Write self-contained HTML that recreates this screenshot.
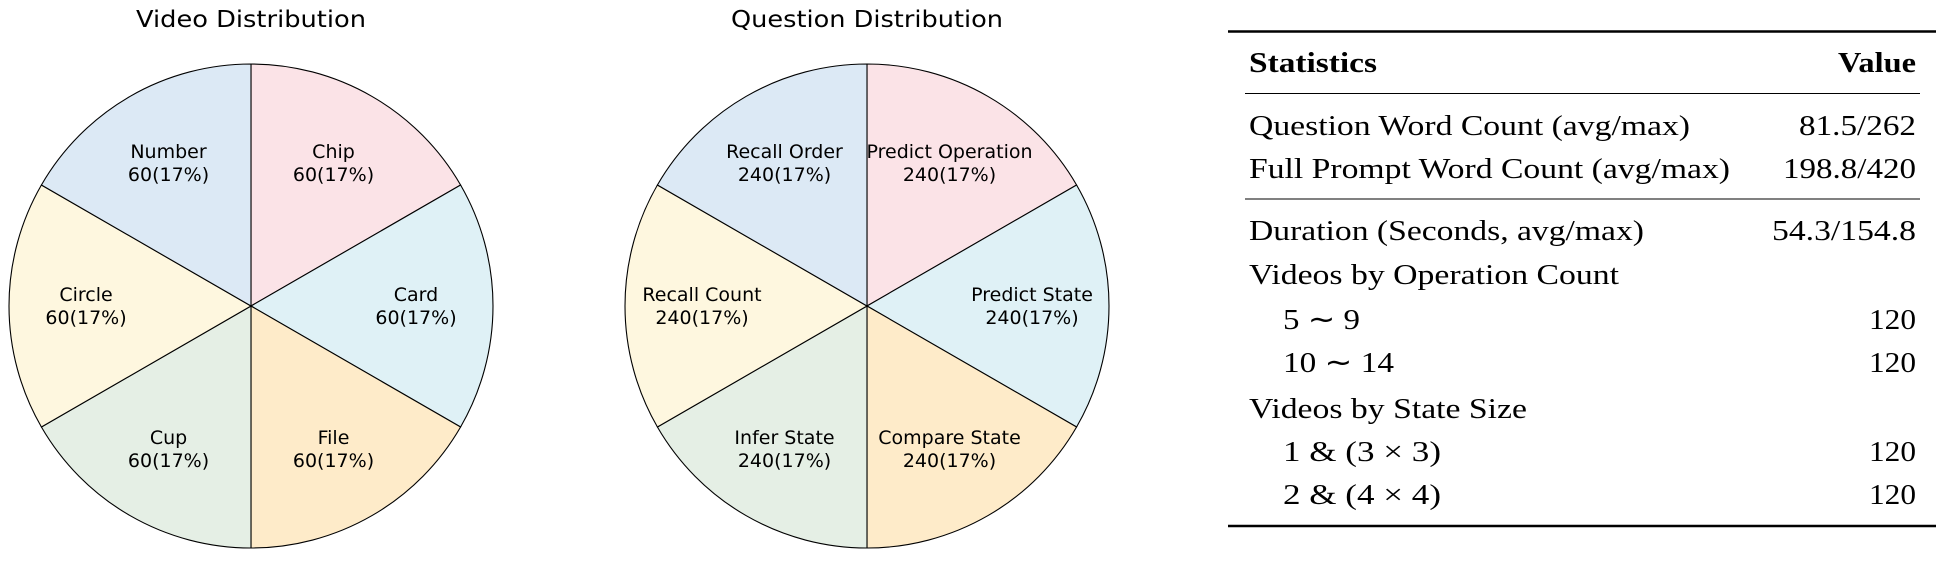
<!DOCTYPE html>
<html><head><meta charset="utf-8"><style>
html,body{margin:0;padding:0;background:#fff;}
svg{display:block;}
</style></head><body>
<svg id="root" width="1942" height="564" viewBox="0 0 1942 564" xmlns="http://www.w3.org/2000/svg">
  <g id="pies"></g>
  <g id="table"></g>
</svg>
<script>
const videoCategories = ["Chip","Card","File","Cup","Circle","Number"];
const videoValues = [60,60,60,60,60,60];
const questionCategories = ["Predict Operation","Predict State","Compare State","Infer State","Recall Count","Recall Order"];
const questionValues = [240,240,240,240,240,240];
const sliceColors = ["#fbe3e7","#dff1f6","#feebc9","#e5efe5","#fef7df","#dce9f5"];

const tableLabels = ["Question Word Count (avg/max)","Full Prompt Word Count (avg/max)","Duration (Seconds, avg/max)","Videos by Operation Count","5 ∼ 9","10 ∼ 14","Videos by State Size","1 & (3 × 3)","2 & (4 × 4)"];
const tableValues = ["81.5/262","198.8/420","54.3/154.8","","120","120","","120","120"];

const NS = "http://www.w3.org/2000/svg";
function mk(tag, attrs, parent){
  const e = document.createElementNS(NS, tag);
  for (const k in attrs) e.setAttribute(k, attrs[k]);
  parent.appendChild(e);
  return e;
}
const pies = document.getElementById('pies');

function drawPie(cx, title, titleW, cats, vals, name){
  const cy = 306, r = 242;
  const g = mk('g', {}, pies);
  
  
  const t = mk('text', {x: cx, y: 27, 'text-anchor':'middle', 'font-family':'DejaVu Sans, sans-serif', 'font-size':'23', fill:'#000', textLength: titleW, lengthAdjust:'spacingAndGlyphs'}, g);
  
  
  t.textContent = title;
  const inner = mk('g', {transform: `translate(${cx},${cy})`}, g);
  const total = vals.reduce((a,b)=>a+b,0);
  let ang = 90;
  vals.forEach((v,i)=>{
    const sweep = v/total*360;
    const a0 = ang*Math.PI/180, a1 = (ang - sweep)*Math.PI/180;
    const x0 = r*Math.cos(a0), y0 = -r*Math.sin(a0);
    const x1 = r*Math.cos(a1), y1 = -r*Math.sin(a1);
    const large = sweep > 180 ? 1 : 0;
    const p = mk('path', {d:`M0,0 L${x0},${y0} A${r},${r} 0 ${large} 1 ${x1},${y1} Z`, fill: sliceColors[i%sliceColors.length], stroke:'#000', 'stroke-width':'1.1'}, inner);
    
    
    const mid = (ang - sweep/2)*Math.PI/180;
    const d = 165;
    const lx = d*Math.cos(mid), ly = -d*Math.sin(mid);
    const lt = mk('text', {'text-anchor':'middle', 'font-family':'DejaVu Sans, sans-serif', 'font-size':'19', fill:'#000'}, inner);
    
    
    const s1 = mk('tspan', {x:lx, y:ly-5}, lt); s1.textContent = cats[i];
    const s2 = mk('tspan', {x:lx, y:ly+18}, lt); s2.textContent = v + '(' + Math.round(v/total*100) + '%)';
    ang -= sweep;
  });
}
drawPie(251, 'Video Distribution', 230, videoCategories, videoValues, 'video-distribution-pie');
drawPie(867, 'Question Distribution', 272, questionCategories, questionValues, 'question-distribution-pie');

const tbl = document.getElementById('table');
function rule(x1,x2,y,w,name){
  const l = mk('line',{x1,x2,y1:y,y2:y,stroke:'#000','stroke-width':w},tbl);
  
  
}
rule(1228,1936,31.5,2.5,'top-rule');
rule(1245,1920,93.5,1,'header-rule');
rule(1245,1920,199,1,'mid-rule');
rule(1228,1936,526,2.5,'bottom-rule');
function txt(str, x, y, w, anchor, bold, name){
  const t = mk('text',{x, y, 'font-family':'Liberation Serif, serif','font-size':'29', fill:'#000','text-anchor':anchor,'font-weight': bold?'bold':'normal', textLength:w, lengthAdjust:'spacingAndGlyphs'}, tbl);
  
  
  t.textContent = str;
}
txt('Statistics',1249,72,128,'start',true,'header-statistics');
txt('Value',1916,72,78,'end',true,'header-value');
const rowY = [135,178,240,284,329,372,418,461,504];
const labW = [441,481,395,370,77,111,278,158,158];
const valW = [117,133,144,0,47,47,0,47,47];
const indent = [0,0,0,0,1,1,0,1,1];
tableLabels.forEach((s,i)=>{
  txt(s, indent[i]?1283:1249, rowY[i], labW[i], 'start', false, 'row-label');
  if (tableValues[i]) txt(tableValues[i], 1916, rowY[i], valW[i], 'end', false, 'row-value');
});
</script>
</body></html>
